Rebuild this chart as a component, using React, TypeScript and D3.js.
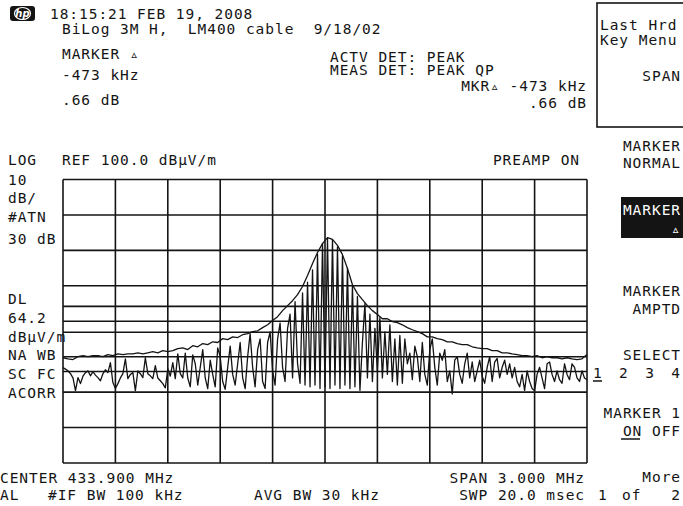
import React from 'react';
import * as d3 from 'd3';

// ---- instrument settings ----
const CENTER_MHZ = 433.9;
const SPAN_MHZ = 3.0;
const REF_LEVEL = 100;
const DB_PER_DIV = 10;
const N_DIV_Y = 8;
const N_DIV_X = 10;
const DISPLAY_LINE = 64.2;
const LIMIT_LINES = [56.9, 45.8];

// ---- trace A : max hold envelope (dBµV/m), evenly spaced over span ----
const maxHoldTrace = [
  49.7, 49.4, 49.2, 50.0, 50.3, 50.0, 50.3, 50.3, 50.0, 50.6,
  50.3, 50.8, 50.6, 50.8, 50.8, 51.1, 50.8, 51.1, 51.4, 51.1,
  51.7, 51.4, 51.7, 52.3, 52.5, 52.0, 53.1, 52.8, 53.7, 53.4,
  54.2, 54.0, 55.1, 54.8, 55.6, 55.4, 56.2, 56.5, 57.1, 57.3,
  58.2, 59.0, 60.2, 61.3, 63.0, 64.4, 65.8, 67.5, 69.8, 72.9,
  76.3, 79.4, 81.9, 83.6, 83.1, 81.4, 78.8, 74.9, 70.3, 67.8,
  66.1, 64.4, 63.0, 61.9, 60.7, 60.7, 59.9, 59.6, 59.0, 58.2,
  57.6, 57.1, 56.5, 55.6, 55.6, 55.1, 54.8, 54.2, 54.2, 53.7,
  53.4, 53.4, 52.8, 52.5, 52.3, 52.3, 51.7, 51.7, 51.1, 51.1,
  50.8, 50.6, 50.3, 50.3, 50.0, 50.3, 49.7, 50.0, 49.7, 49.7,
  49.4, 49.7, 49.4, 49.2, 49.4, 50.6,
];

// ---- trace B : clear-write sweep (dBµV/m), evenly spaced over span ----
const clearWriteTrace = [
  46.9, 46.5, 46.0, 45.2, 44.0, 40.4, 44.1, 42.4, 44.5, 45.5,
  46.0, 44.6, 45.8, 44.8, 44.1, 43.2, 45.2, 46.3, 45.5, 48.3,
  42.7, 41.0, 42.4, 44.0, 45.2, 49.4, 43.8, 45.0, 45.5, 40.4,
  46.0, 45.2, 44.1, 49.7, 45.2, 44.6, 43.8, 47.5, 44.0, 43.2,
  42.4, 41.2, 46.6, 44.5, 48.3, 43.8, 50.8, 45.2, 44.0, 51.0,
  44.0, 41.5, 50.5, 48.0, 42.0, 47.0, 52.0, 44.0, 41.0, 49.0,
  45.0, 41.5, 52.5, 50.0, 43.0, 40.8, 47.0, 53.0, 45.0, 42.0,
  48.0, 54.0, 44.0, 41.0, 50.0, 56.5, 47.0, 41.5, 52.0, 55.0,
  43.0, 41.0, 54.0, 57.0, 46.0, 42.0, 55.0, 59.5, 47.0, 43.0,
  58.0, 62.0, 44.0, 65.5, 48.0, 42.5, 68.0, 42.0, 71.0, 41.5,
  74.5, 42.0, 79.0, 41.0, 82.0, 41.5, 83.5, 41.0, 83.0, 42.0,
  81.0, 41.0, 78.5, 42.0, 75.0, 41.0, 70.0, 41.5, 67.0, 40.5,
  54.0, 65.0, 44.0, 62.0, 43.0, 58.0, 46.0, 61.0, 44.0, 57.0,
  45.0, 59.0, 43.0, 55.0, 42.0, 56.0, 42.5, 55.0, 48.0, 51.0,
  43.5, 53.0, 50.0, 43.0, 54.0, 45.0, 42.0, 52.0, 55.0, 47.0,
  42.0, 51.0, 49.0, 52.0, 43.0, 46.0, 39.5, 49.0, 50.0, 45.0,
  42.5, 48.0, 51.0, 44.0, 48.5, 43.0, 46.0, 49.0, 44.5, 42.5,
  47.0, 50.0, 43.0, 48.5, 49.5, 44.0, 47.0, 49.0, 45.0, 48.0,
  44.0, 47.0, 43.0, 41.5, 45.0, 40.5, 46.0, 43.0, 41.0, 40.4,
  45.0, 47.0, 44.0, 41.0, 48.0, 48.5, 45.0, 43.0, 46.0, 43.5,
  42.5, 48.0, 45.0, 43.5, 48.0, 47.0, 44.0, 43.0, 46.0, 44.0,
  43.5,
];

const FONT = "'DejaVu Sans Mono', 'Liberation Mono', monospace";
const FS = 14.5;
const LS = 0.95;
const INK = '#141414';
const NB = '\u00a0';

function T(props: any) {
  const { children, ...rest } = props;
  return (
    <text fontFamily={FONT} fontSize={FS} letterSpacing={LS} fill={INK} {...rest}>
      {children}
    </text>
  );
}

export default function App() {
  const left = 63, right = 587, top = 179.5, bottom = 463;
  const f0 = CENTER_MHZ - SPAN_MHZ / 2;
  const f1 = CENTER_MHZ + SPAN_MHZ / 2;
  const x = d3.scaleLinear().domain([f0, f1]).range([left, right]);
  const y = d3
    .scaleLinear()
    .domain([REF_LEVEL - DB_PER_DIV * N_DIV_Y, REF_LEVEL])
    .range([bottom, top]);

  const traceLine = (arr: number[]) =>
    d3
      .line<number>()
      .x((_, i) => x(f0 + (SPAN_MHZ * i) / (arr.length - 1)))
      .y((d) => y(d))(arr) || '';

  const vTicks = d3.range(N_DIV_X + 1).map((k) => f0 + (k * SPAN_MHZ) / N_DIV_X);
  const hTicks = d3.range(N_DIV_Y + 1).map((k) => REF_LEVEL - k * DB_PER_DIV);
  const extraLines = [DISPLAY_LINE, ...LIMIT_LINES];
  const LX = 8;

  return (
    <svg
      width={683}
      height={506}
      style={{ position: 'absolute', left: 0, top: 0, background: '#fff' }}
    >
      <rect x={0} y={0} width={683} height={506} fill="#fff" />

      {/* HP logo */}
      <rect x={10} y={6} width={25} height={15} rx={3} fill={INK} />
      <ellipse cx={22.5} cy={13.5} rx={8} ry={6} fill="none" stroke="#fff" strokeWidth={1.2} />
      <text x={22.5} y={17} textAnchor="middle" fontFamily="'DejaVu Sans', sans-serif" fontSize={10} fontStyle="italic" fontWeight="bold" fill="#fff">hp</text>

      {/* header texts */}
      <T x={50} y={19}>18:15:21 FEB 19, 2008</T>
      <T x={62} y={34}>{`BiLog 3M H,${NB}${NB}LM400 cable${NB}${NB}9/18/02`}</T>
      <T x={62} y={59}>MARKER ▵</T>
      <T x={62} y={80}>-473 kHz</T>
      <T x={62} y={105}>.66 dB</T>
      <T x={330} y={62}>ACTV DET: PEAK</T>
      <T x={330} y={75}>MEAS DET: PEAK QP</T>
      <T x={587} y={91} textAnchor="end">MKR▵ -473 kHz</T>
      <T x={587} y={108} textAnchor="end">.66 dB</T>

      {/* top-right softkey box */}
      <rect x={597} y={3} width={90} height={124} fill="none" stroke={INK} strokeWidth={1.6} />
      <T x={600} y={30}>Last Hrd</T>
      <T x={600} y={45}>Key Menu</T>
      <T x={681} y={81} textAnchor="end">SPAN</T>

      {/* graph annotations */}
      <T x={LX} y={165}>LOG</T>
      <T x={62} y={165}>REF 100.0 dBμV/m</T>
      <T x={580} y={165} textAnchor="end">PREAMP ON</T>
      <T x={LX} y={185}>10</T>
      <T x={LX} y={203}>dB/</T>
      <T x={LX} y={222}>#ATN</T>
      <T x={LX} y={244}>30 dB</T>
      <T x={LX} y={304}>DL</T>
      <T x={LX} y={323}>64.2</T>
      <T x={LX} y={342}>dBμV/m</T>
      <T x={LX} y={360}>NA WB</T>
      <T x={LX} y={379}>SC FC</T>
      <T x={LX} y={398}>ACORR</T>

      {/* graticule */}
      <g stroke={INK} strokeWidth={1.6} fill="none">
        {vTicks.map((f, i) => (
          <line key={'v' + i} x1={x(f)} x2={x(f)} y1={top} y2={bottom} />
        ))}
        {hTicks.map((v, i) => (
          <line key={'h' + i} x1={left} x2={right} y1={y(v)} y2={y(v)} />
        ))}
        {extraLines.map((v, i) => (
          <line key={'e' + i} x1={left} x2={right} y1={y(v)} y2={y(v)} />
        ))}
      </g>

      {/* traces */}
      <path d={traceLine(clearWriteTrace)} fill="none" stroke={INK} strokeWidth={1.3} strokeLinejoin="round" />
      <path d={traceLine(maxHoldTrace)} fill="none" stroke={INK} strokeWidth={1.3} strokeLinejoin="round" />

      {/* footer */}
      <T x={0} y={483}>CENTER 433.900 MHz</T>
      <T x={585} y={483} textAnchor="end">SPAN 3.000 MHz</T>
      <T x={0} y={500}>AL</T>
      <T x={48} y={500}>#IF BW 100 kHz</T>
      <T x={254} y={500}>AVG BW 30 kHz</T>
      <T x={585} y={500} textAnchor="end">SWP 20.0 msec</T>

      {/* softkeys */}
      <T x={681} y={151} textAnchor="end">MARKER</T>
      <T x={681} y={168} textAnchor="end">NORMAL</T>
      <rect x={621} y={197} width={62} height={41} fill={INK} />
      <T x={681} y={215} textAnchor="end" fill="#fff">MARKER</T>
      <T x={681} y={234} textAnchor="end" fill="#fff">▵</T>
      <T x={681} y={296} textAnchor="end">MARKER</T>
      <T x={681} y={314} textAnchor="end">AMPTD</T>
      <T x={681} y={360} textAnchor="end">SELECT</T>
      <T x={593} y={378} textLength={88} lengthAdjust="spacing">1 2 3 4</T>
      <line x1={593} x2={602} y1={381} y2={381} stroke={INK} strokeWidth={1.5} />
      <T x={681} y={418} textAnchor="end">MARKER 1</T>
      <T x={681} y={436} textAnchor="end">ON OFF</T>
      <line x1={621} x2={640} y1={439} y2={439} stroke={INK} strokeWidth={1.5} />
      <T x={681} y={482} textAnchor="end">More</T>
      <T x={598} y={500}>1</T>
      <T x={622} y={500}>of</T>
      <T x={681} y={500} textAnchor="end">2</T>
    </svg>
  );
}
